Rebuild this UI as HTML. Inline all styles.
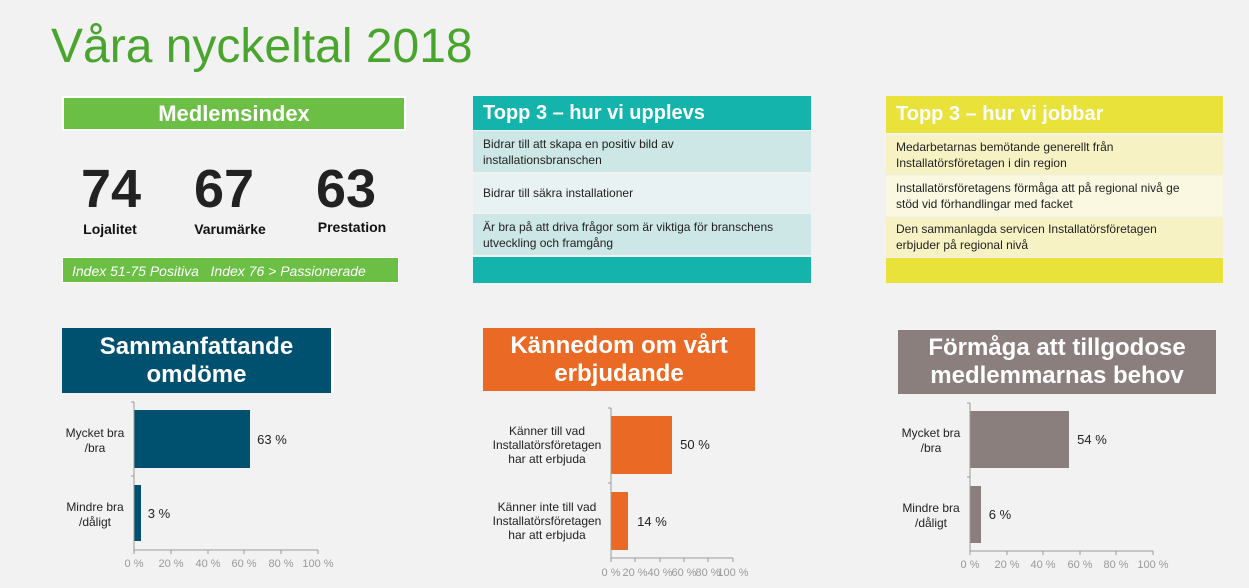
<!DOCTYPE html>
<html><head><meta charset="utf-8"><style>
*{margin:0;padding:0;box-sizing:border-box}
body{width:1249px;height:588px;background:#f2f2f2;font-family:"Liberation Sans",sans-serif;position:relative;overflow:hidden}
.a{position:absolute}
.hd{color:#fff;font-weight:bold;display:flex;align-items:center}
.row{position:absolute;font-size:12px;color:#222;padding-left:10px;display:flex;align-items:center;line-height:16px;font-family:"Liberation Sans Narrow","Liberation Sans",sans-serif}
.num{position:absolute;font-size:54px;font-weight:bold;color:#222;text-align:center;width:100px;top:158px}
.lab{position:absolute;font-size:14px;font-weight:bold;color:#111;text-align:center;width:120px}
.bt{position:absolute;color:#fff;font-weight:bold;font-size:24px;text-align:center;line-height:28px;display:flex;align-items:center;justify-content:center}
</style></head><body>
<div class="a" style="left:51px;top:19px;font-size:48px;color:#4aa52e">Våra nyckeltal 2018</div>

<div class="a hd" style="left:62px;top:96px;width:344px;height:35px;background:#6cbf45;justify-content:center;font-size:22px;border:2px solid #fff">Medlemsindex</div>
<div class="num" style="left:61px">74</div>
<div class="num" style="left:174px">67</div>
<div class="num" style="left:296px">63</div>
<div class="lab" style="left:50px;top:221px">Lojalitet</div>
<div class="lab" style="left:170px;top:221px">Varumärke</div>
<div class="lab" style="left:292px;top:219px">Prestation</div>
<div class="a" style="left:62px;top:257px;width:337px;height:26px;background:#6cbf45;color:#fff;font-style:italic;font-size:14px;padding:5px 0 0 9px;border:1px solid #fff">Index 51-75 Positiva &nbsp;&nbsp;Index 76 &gt; Passionerade</div>

<div class="a hd" style="left:473px;top:96px;width:338px;height:34px;background:#14b3ac;font-size:20px;padding-left:10px;font-family:'Liberation Sans Narrow','Liberation Sans',sans-serif">Topp 3 – hur vi upplevs</div>
<div class="row" style="left:473px;top:131px;width:338px;height:41px;background:#cde6e6">Bidrar till att skapa en positiv bild av<br>installationsbranschen</div>
<div class="row" style="left:473px;top:173px;width:338px;height:40px;background:#e8f2f2">Bidrar till säkra installationer</div>
<div class="row" style="left:473px;top:214px;width:338px;height:41px;background:#cde6e6">Är bra på att driva frågor som är viktiga för branschens<br>utveckling och framgång</div>
<div class="a" style="left:473px;top:257px;width:338px;height:26px;background:#14b3ac"></div>

<div class="a hd" style="left:886px;top:96px;width:337px;height:37px;background:#e8e23a;font-size:20px;padding-left:10px;font-family:'Liberation Sans Narrow','Liberation Sans',sans-serif">Topp 3 – hur vi jobbar</div>
<div class="row" style="left:886px;top:135px;width:337px;height:40px;background:#f6f2c4">Medarbetarnas bemötande generellt från<br>Installatörsföretagen i din region</div>
<div class="row" style="left:886px;top:176px;width:337px;height:40px;background:#faf8e0">Installatörsföretagens förmåga att på regional nivå ge<br>stöd vid förhandlingar med facket</div>
<div class="row" style="left:886px;top:217px;width:337px;height:40px;background:#f6f2c4">Den sammanlagda servicen Installatörsföretagen<br>erbjuder på regional nivå</div>
<div class="a" style="left:886px;top:258px;width:337px;height:25px;background:#e8e23a"></div>

<div class="bt" style="left:62px;top:328px;width:272px;height:65px;background:#005070;border-right:3px solid #fff">Sammanfattande<br>omdöme</div>
<div class="bt" style="left:483px;top:328px;width:272px;height:63px;background:#ea6a25">Kännedom om vårt<br>erbjudande</div>
<div class="bt" style="left:898px;top:330px;width:318px;height:64px;background:#8a7f7c">Förmåga att tillgodose<br>medlemmarnas behov</div>

<svg class="a" style="left:0;top:0" width="1249" height="588" font-family="Liberation Sans, sans-serif">
<g font-size="12" fill="#222" text-anchor="middle">
 <rect x="134" y="410" width="116" height="58" fill="#005070"/>
 <rect x="134" y="485" width="7" height="56" fill="#005070"/>
 <path d="M134 402V550H318M131 402H134M131 476H134M134 550v4M171 550v4M208 550v4M244 550v4M281 550v4M318 550v4" stroke="#999" fill="none"/>
 <text x="95" y="437">Mycket bra</text><text x="95" y="452">/bra</text>
 <text x="95" y="511">Mindre bra</text><text x="95" y="526">/dåligt</text>
 <text x="272" y="444" font-size="13">63 %</text><text x="159" y="518" font-size="13">3 %</text>
 <g fill="#999" font-size="11"><text x="134" y="567">0 %</text><text x="171" y="567">20 %</text><text x="208" y="567">40 %</text><text x="244" y="567">60 %</text><text x="281" y="567">80 %</text><text x="318" y="567">100 %</text></g>
 <rect x="611" y="416" width="61" height="58" fill="#ea6a25"/>
 <rect x="611" y="492" width="17" height="58" fill="#ea6a25"/>
 <path d="M611 408V558H733M608 408H611M608 483H611M611 558v4M635 558v4M660 558v4M684 558v4M708 558v4M733 558v4" stroke="#999" fill="none"/>
 <text x="547" y="435">Känner till vad</text><text x="547" y="449">Installatörsföretagen</text><text x="547" y="463">har att erbjuda</text>
 <text x="547" y="511">Känner inte till vad</text><text x="547" y="525">Installatörsföretagen</text><text x="547" y="539">har att erbjuda</text>
 <text x="695" y="449" font-size="13">50 %</text><text x="652" y="526" font-size="13">14 %</text>
 <g fill="#999" font-size="11"><text x="611" y="576">0 %</text><text x="635" y="576">20 %</text><text x="660" y="576">40 %</text><text x="684" y="576">60 %</text><text x="708" y="576">80 %</text><text x="733" y="576">100 %</text></g>
 <rect x="970" y="411" width="99" height="57" fill="#8a7f7c"/>
 <rect x="970" y="486" width="11" height="57" fill="#8a7f7c"/>
 <path d="M970 403V551H1153M967 403H970M967 477H970M970 551v4M1007 551v4M1043 551v4M1080 551v4M1116 551v4M1153 551v4" stroke="#999" fill="none"/>
 <text x="931" y="437">Mycket bra</text><text x="931" y="452">/bra</text>
 <text x="931" y="512">Mindre bra</text><text x="931" y="527">/dåligt</text>
 <text x="1092" y="444" font-size="13">54 %</text><text x="1000" y="519" font-size="13">6 %</text>
 <g fill="#999" font-size="11"><text x="970" y="568">0 %</text><text x="1007" y="568">20 %</text><text x="1043" y="568">40 %</text><text x="1080" y="568">60 %</text><text x="1116" y="568">80 %</text><text x="1153" y="568">100 %</text></g>
</g>
</svg>
</body></html>
